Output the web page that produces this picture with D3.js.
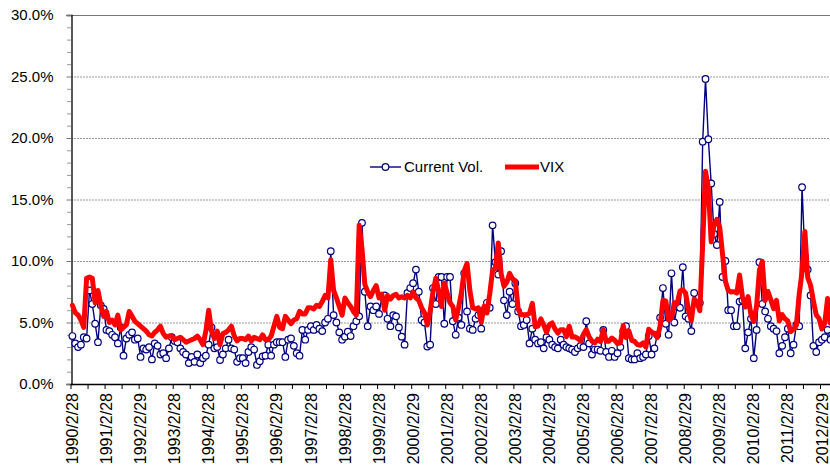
<!DOCTYPE html>
<html>
<head>
<meta charset="utf-8">
<script src="https://cdn.jsdelivr.net/npm/d3@7"></script>
<style>
    body { margin: 0; background: #ffffff; }
    svg { display: block; font-family: "Liberation Sans", Arial, sans-serif; }
</style>
</head>
<body>
<div id="chart"></div>
<script>
// monthly values in %, first point = 1990/2/28
var currentVol = [
    3.9, 3.3, 3.0, 3.2, 3.8, 3.7, 7.6, 6.5, 4.9, 3.4, 6.4, 6.1,
    4.4, 4.3, 4.0, 3.8, 3.3, 4.6, 2.3, 3.7, 4.0, 4.2, 3.6, 3.7,
    2.2, 2.9, 2.8, 3.0, 2.0, 3.3, 3.1, 2.4, 2.5, 2.1, 2.9, 3.8,
    3.5, 3.4, 2.9, 2.6, 2.4, 1.7, 2.2, 1.8, 2.4, 1.7, 2.1, 2.3,
    3.2, 4.6, 2.9, 3.0, 1.95, 2.4, 2.9, 3.6, 2.9, 2.8, 1.8, 2.1,
    2.1, 1.7, 2.6, 3.0, 2.8, 1.55, 1.85, 2.25, 2.3, 3.2, 2.3, 3.2,
    3.4, 3.4, 3.4, 2.2, 3.6, 3.7, 3.1, 2.5, 2.3, 4.4, 3.6, 4.4,
    4.7, 4.4, 4.8, 4.5, 4.3, 5.0, 5.3, 10.8, 5.6, 5.0, 4.2, 3.6,
    3.85, 4.25, 3.9, 4.7, 5.1, 5.5, 13.1, 7.5, 4.7, 6.3, 6.0, 6.3,
    5.7, 7.1, 7.2, 5.3, 4.7, 5.6, 5.5, 4.6, 3.85, 3.2, 7.4, 7.8,
    8.2, 9.3, 7.5, 5.2, 5.0, 3.05, 3.2, 7.8, 6.5, 8.7, 8.7, 4.9,
    8.7, 8.7, 5.1, 4.0, 5.4, 4.8, 9.0, 5.9, 4.5, 4.4, 5.3, 5.6,
    4.5, 6.0, 6.6, 6.2, 12.9, 9.9, 8.9, 10.8, 6.8, 5.6, 7.5, 6.5,
    8.2, 5.9, 4.7, 4.8, 5.2, 3.3, 4.5, 3.6, 3.3, 3.4, 2.9, 3.8,
    3.6, 3.2, 3.0, 2.9, 3.6, 3.2, 3.0, 2.9, 2.8, 2.6, 2.9, 3.1,
    3.0, 5.1, 3.3, 2.4, 2.8, 2.8, 2.7, 4.4, 2.6, 2.2, 2.7, 2.2,
    2.5, 3.0, 4.3, 4.7, 2.1, 2.0, 2.0, 2.5, 2.1, 2.2, 2.4, 3.9,
    2.4, 2.9, 4.0, 5.4, 7.8, 4.9, 4.0, 9.0, 5.0, 6.3, 6.2, 9.5,
    5.5, 5.3, 4.3, 7.4, 6.6, 6.6, 19.7, 24.8, 19.9, 16.3, 12.2, 11.3,
    14.8, 8.7, 10.0, 6.0, 6.0, 4.7, 4.7, 6.7, 6.8, 2.9, 4.2, 5.3,
    2.1, 4.4, 9.9, 6.5, 5.9, 5.3, 4.7, 4.5, 4.3, 2.5, 3.1, 3.8,
    4.5, 2.5, 3.2, 4.8, 4.7, 16.0, 10.4, 9.3, 7.2, 3.1, 2.6, 3.4,
    3.6, 3.8, 4.4, 3.6
];

var vix = [
    6.4, 5.8, 5.6, 5.2, 4.6, 8.6, 8.7, 8.6, 6.6, 7.6, 6.4, 5.5,
    5.9, 5.0, 5.2, 4.8, 5.6, 4.4, 4.6, 4.8, 5.9, 5.5, 5.1, 4.9,
    4.7, 4.5, 4.3, 4.0, 3.9, 4.2, 4.4, 4.7, 4.1, 3.8, 3.9, 3.9,
    3.6, 3.7, 3.8, 3.6, 3.4, 3.5, 3.6, 3.7, 3.9, 3.6, 3.2, 4.3,
    6.0, 4.3, 3.7, 4.3, 3.2, 4.1, 4.2, 4.4, 4.7, 3.9, 3.5, 3.7,
    3.7, 3.6, 3.9, 3.5, 3.8, 3.7, 3.6, 4.0, 3.6, 3.6, 3.9, 4.7,
    5.5, 4.6, 4.5, 5.5, 5.2, 4.9, 5.2, 5.3, 5.9, 5.7, 5.7, 6.2,
    6.2, 6.1, 6.4, 6.3, 6.7, 7.2, 7.0, 10.1, 7.6, 7.0, 6.3, 5.6,
    7.0, 6.6, 6.3, 5.9, 5.6, 12.9, 11.0, 8.1, 7.5, 7.1, 7.6, 8.0,
    7.0, 7.3, 6.0, 7.2, 6.9, 7.2, 7.3, 7.0, 7.1, 7.0, 7.2, 7.0,
    7.5, 7.0, 6.8, 6.2, 5.8, 4.8, 5.9, 7.5, 8.6, 7.6, 6.3, 8.2,
    7.4, 6.6, 6.3, 5.2, 6.2, 7.4, 9.2, 9.8, 7.6, 6.2, 6.1, 6.2,
    5.02, 6.32, 5.77, 7.33, 9.25, 9.42, 11.46, 8.99, 7.94, 8.26, 9.0, 8.55,
    8.41, 6.12, 5.62, 5.63, 5.63, 5.75, 6.56, 4.65, 4.71, 5.29, 4.80, 4.20,
    4.83, 4.96, 4.47, 4.14, 4.42, 4.41, 3.85, 4.70, 3.82, 3.84, 3.70, 3.49,
    4.05, 4.42, 3.84, 3.48, 3.34, 3.64, 3.44, 4.42, 3.48, 3.48, 3.74, 3.56,
    3.29, 3.35, 4.75, 3.78, 4.32, 3.55, 3.46, 3.20, 3.15, 3.34, 3.01, 4.45,
    4.23, 4.10, 3.77, 4.69, 6.79, 6.75, 5.20, 5.35, 6.60, 6.50, 7.56, 7.66,
    7.39, 6.00, 5.15, 6.91, 6.62, 5.96, 11.37, 17.29, 15.96, 11.55, 12.94, 13.38,
    12.74, 10.54, 8.35, 7.61, 7.48, 7.51, 7.39, 8.86, 7.08, 6.26, 7.11, 5.63,
    5.08, 6.37, 9.26, 9.97, 6.78, 7.52, 6.84, 6.12, 6.80, 5.12, 5.64, 5.30,
    5.12, 4.26, 4.46, 4.77, 7.29, 9.13, 12.40, 8.65, 8.03, 6.75, 5.61, 5.32,
    4.47, 4.95, 6.95, 4.93
];

var tickLabels = ["1990/2/28", "1991/2/28", "1992/2/29", "1993/2/28", "1994/2/28",
    "1995/2/28", "1996/2/29", "1997/2/28", "1998/2/28", "1999/2/28", "2000/2/29",
    "2001/2/28", "2002/2/28", "2003/2/28", "2004/2/29", "2005/2/28", "2006/2/28",
    "2007/2/28", "2008/2/29", "2009/2/28", "2010/2/28", "2011/2/28", "2012/2/29"];

var yTicks = [0, 5, 10, 15, 20, 25, 30];

// month-end categories, one per data point
var categories = d3.range(currentVol.length).map(function(i) {
    var d = new Date(1990, 2 + i, 0);
    return d.getFullYear() + "/" + (d.getMonth() + 1) + "/" + d.getDate();
});

var W = 830, H = 465;
var plotLeft = 71, plotTop = 15, plotBottom = 384;
var step = 2.839;
var navy = "#000080", red = "#ff0000";

var svg = d3.select("#chart").append("svg")
    .attr("width", W)
    .attr("height", H);

svg.append("rect").attr("width", W).attr("height", H).attr("fill", "#ffffff");

var x = d3.scaleBand()
    .domain(categories)
    .range([plotLeft, plotLeft + categories.length * step])
    .padding(0);
var cx = function(i) { return x(categories[i]) + x.bandwidth() / 2; };

var y = d3.scaleLinear()
    .domain([0, 30])
    .range([plotBottom, plotTop]);

// gridlines
svg.append("g")
    .selectAll("line")
    .data(yTicks.filter(function(d) { return d > 0; }))
    .enter()
    .append("line")
    .attr("x1", plotLeft)
    .attr("x2", W)
    .attr("y1", function(d) { return y(d) + 0.5; })
    .attr("y2", function(d) { return y(d) + 0.5; })
    .attr("stroke", function(d) { return d == 30 ? "#666" : "#8c8c8c"; })
    .attr("stroke-width", 0.9)
    .attr("stroke-dasharray", function(d) { return d == 30 ? null : "2,1"; });

// minor y ticks
svg.append("g")
    .attr("transform", "translate(" + plotLeft + ",0)")
    .call(d3.axisLeft(y).tickValues(d3.range(0, 31).filter(function(d) { return d % 5 != 0; }))
        .tickSize(4).tickFormat(""))
    .call(function(g) { g.select(".domain").remove(); })
    .selectAll("line").attr("stroke", "#999");

// major y axis
var yAxis = svg.append("g")
    .attr("transform", "translate(" + (plotLeft + 0.5) + ",0)")
    .call(d3.axisLeft(y).tickValues(yTicks).tickSize(5).tickPadding(13)
        .tickFormat(function(d) { return d.toFixed(1) + "%"; }));
yAxis.select(".domain").attr("stroke", "#000").attr("stroke-width", 1.3);
yAxis.selectAll(".tick line").attr("stroke", "#777");
yAxis.selectAll("text")
    .attr("font-size", "15px")
    .attr("font-family", "Liberation Sans, Arial, sans-serif")
    .attr("fill", "#000");

// x axis line
svg.append("line")
    .attr("x1", plotLeft)
    .attr("x2", W)
    .attr("y1", plotBottom + 0.5)
    .attr("y2", plotBottom + 0.5)
    .attr("stroke", "#000")
    .attr("stroke-width", 1.3);

// x ticks every 6 months, labels every 12
svg.append("g")
    .selectAll("line")
    .data(d3.range(0, categories.length, 6))
    .enter()
    .append("line")
    .attr("x1", function(i) { return x(categories[i]); })
    .attr("x2", function(i) { return x(categories[i]); })
    .attr("y1", plotBottom)
    .attr("y2", plotBottom + 5)
    .attr("stroke", "#000");

svg.append("g")
    .selectAll("text")
    .data(tickLabels)
    .enter()
    .append("text")
    .attr("transform", function(d, k) { return "translate(" + cx(k * 12) + "," + (plotBottom + 9) + ") rotate(-90)"; })
    .attr("dy", "0.35em")
    .attr("text-anchor", "end")
    .attr("font-size", "16px")
    .attr("fill", "#000")
    .text(function(d) { return d; });

// Current Vol. line + markers
var line = d3.line()
    .x(function(d, i) { return cx(i); })
    .y(function(d) { return y(d); });

svg.append("path")
    .datum(currentVol)
    .attr("d", line)
    .attr("fill", "none")
    .attr("stroke", navy)
    .attr("stroke-width", 1.4)
    .attr("stroke-linejoin", "round");

svg.append("g")
    .selectAll("circle")
    .data(currentVol)
    .enter()
    .append("circle")
    .attr("cx", function(d, i) { return cx(i); })
    .attr("cy", function(d) { return y(d); })
    .attr("r", 3.3)
    .attr("fill", "#ffffff")
    .attr("stroke", navy)
    .attr("stroke-width", 1.2);

// VIX thick red line
svg.append("path")
    .datum(vix)
    .attr("d", line)
    .attr("fill", "none")
    .attr("stroke", red)
    .attr("stroke-width", 5)
    .attr("stroke-linejoin", "round")
    .attr("stroke-linecap", "round");

// legend
var legend = svg.append("g");
legend.append("line")
    .attr("x1", 370).attr("x2", 401)
    .attr("y1", 167).attr("y2", 167)
    .attr("stroke", navy).attr("stroke-width", 1.4);
legend.append("circle")
    .attr("cx", 385.5).attr("cy", 167).attr("r", 3.3)
    .attr("fill", "#fff").attr("stroke", navy).attr("stroke-width", 1.2);
legend.append("text")
    .attr("x", 404).attr("y", 167).attr("dy", "0.35em")
    .attr("font-size", "15px")
    .text("Current Vol.");
legend.append("line")
    .attr("x1", 505).attr("x2", 539)
    .attr("y1", 167).attr("y2", 167)
    .attr("stroke", red).attr("stroke-width", 5);
legend.append("text")
    .attr("x", 540).attr("y", 167).attr("dy", "0.35em")
    .attr("font-size", "15px")
    .text("VIX");
</script>
</body>
</html>
